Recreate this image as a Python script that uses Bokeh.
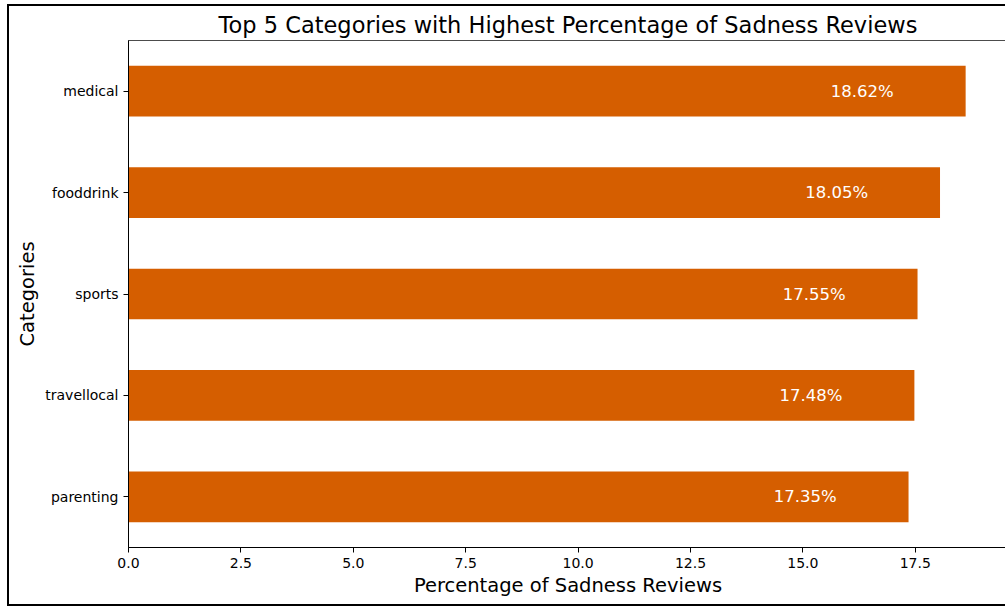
from bokeh.plotting import figure
from bokeh.models import ColumnDataSource, FixedTicker, PrintfTickFormatter, Range1d, FactorRange
from bokeh.core.properties import value
from bokeh.embed import file_html
from bokeh.resources import INLINE

categories = ["parenting", "travellocal", "sports", "fooddrink", "medical"]
percentages = [17.35, 17.48, 17.55, 18.05, 18.62]
x_ticks = [0.0, 2.5, 5.0, 7.5, 10.0, 12.5, 15.0, 17.5]

labels = [f"{v:.2f}%" for v in percentages]
label_x = [v - 2.3 for v in percentages]

src = ColumnDataSource(dict(cat=categories, val=percentages, lab=labels, lx=label_x))

FONT = "DejaVu Sans"

p = figure(
    width=998, height=602,
    y_range=FactorRange(*categories),
    x_range=Range1d(0, max(percentages) * 1.05),
    output_backend="svg", toolbar_location=None,
    title="Top 5 Categories with Highest Percentage of Sadness Reviews",
    min_border_left=119, min_border_right=0, min_border_top=34, min_border_bottom=61,
)

p.hbar(y="cat", right="val", left=0, height=0.5, source=src, color="#D55E00", line_color=None)
p.text(x="lx", y="cat", text="lab", source=src, text_color="white",
       text_font=value(FONT), text_font_size="16.5px", text_align="center", text_baseline="middle")

p.title.text_font = FONT
p.title.text_font_size = "22.5px"
p.title.text_font_style = "normal"
p.title.align = "center"
p.title.text_color = "black"
p.title.standoff = 5
p.title.offset = 0

p.xaxis.axis_label = "Percentage of Sadness Reviews"
p.yaxis.axis_label = "Categories"
for ax in (p.xaxis[0], p.yaxis[0]):
    ax.axis_label_text_font = FONT
    ax.axis_label_text_font_size = "19.5px"
    ax.axis_label_text_font_style = "normal"
    ax.axis_label_text_color = "black"
    ax.major_label_text_font = FONT
    ax.major_label_text_font_size = "14px"
    ax.major_label_text_color = "black"
    ax.axis_line_color = "black"
    ax.major_tick_line_color = "black"
    ax.major_tick_out = 5
    ax.major_tick_in = 0
    ax.minor_tick_line_color = None

p.xaxis.ticker = FixedTicker(ticks=x_ticks)
p.xaxis.formatter = PrintfTickFormatter(format="%.1f")
p.xaxis.axis_label_standoff = 3
p.yaxis.axis_label_standoff = 3

p.xgrid.grid_line_color = None
p.ygrid.grid_line_color = None
p.outline_line_color = "black"
p.outline_line_alpha = 0.7
p.background_fill_color = "white"
p.border_fill_color = "white"
p.styles = {
    "margin-left": "7px", "margin-top": "4px",
    "border-left": "2px solid black", "border-top": "2px solid black",
    "border-bottom": "2px solid black", "box-sizing": "border-box",
}

open("out.html", "w").write(file_html(p, INLINE))
